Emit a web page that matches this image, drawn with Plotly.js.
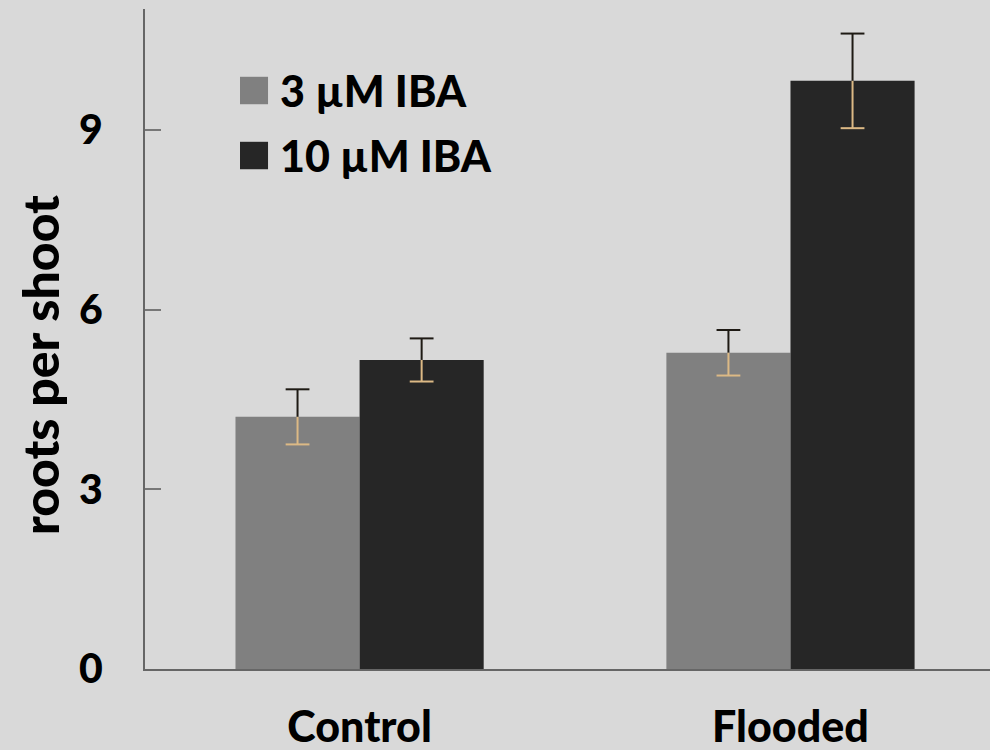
<!DOCTYPE html>
<html>
<head>
<meta charset="utf-8">
<script src="https://cdn.plot.ly/plotly-3.0.1.min.js"></script>
<style>
  html, body { margin: 0; padding: 0; background: #d9d9d9; }
  #chart { width: 990px; height: 750px; }
</style>
</head>
<body>
<div id="chart"></div>
<script>
// Root formation per shoot under two IBA concentrations
const categories = ['Control', 'Flooded'];
const seriesNames = ['3 µM IBA', '10 µM IBA'];
const iba3 = [4.21, 5.28];
const iba3Err = [0.46, 0.38];
const iba10 = [5.16, 9.82];
const iba10Err = [0.36, 0.79];
const yTicks = [0, 3, 6, 9];
const yTitle = 'roots per shoot';

const seriesValues = [iba3, iba10];
const seriesErrors = [iba3Err, iba10Err];
const barColors = ['#808080', '#262626'];
const errDark = '#1e1a14';
const errLight = '#dcb985';

const FONT = 'Lato, "Open Sans", sans-serif';
const catIdx = categories.map((_, i) => i);
const barWidth = 0.288;

const traces = [];
seriesValues.forEach((vals, s) => {
  traces.push({
    type: 'bar',
    name: seriesNames[s],
    x: catIdx,
    y: vals,
    marker: { color: barColors[s], line: { width: 0 } },
    showlegend: false,
    hoverinfo: 'y'
  });
});

// Error bars: dark upper stem and cap, light tan lower stem and cap
seriesValues.forEach((vals, s) => {
  const xs = catIdx.map(i => i + (s === 0 ? -barWidth / 2 : barWidth / 2));
  const errs = seriesErrors[s];
  const zeros = vals.map(() => 0);
  const hidden = { size: 1, color: 'rgba(0,0,0,0)' };
  traces.push({
    type: 'scatter', mode: 'markers', x: xs, y: vals, marker: hidden,
    showlegend: false, hoverinfo: 'skip',
    error_y: { type: 'data', symmetric: false, array: errs, arrayminus: zeros,
               color: errDark, thickness: 2, width: 0 }
  });
  traces.push({
    type: 'scatter', mode: 'markers', x: xs, y: vals, marker: hidden,
    showlegend: false, hoverinfo: 'skip',
    error_y: { type: 'data', symmetric: false, array: zeros, arrayminus: errs,
               color: errLight, thickness: 2, width: 0 }
  });
  // caps
  traces.push({
    type: 'scatter', mode: 'markers', x: xs, y: vals.map((v, i) => v + errs[i]),
    marker: { symbol: 'line-ew', size: 17, line: { color: errDark, width: 2 } },
    showlegend: false, hoverinfo: 'skip'
  });
  traces.push({
    type: 'scatter', mode: 'markers', x: xs, y: vals.map((v, i) => v - errs[i]),
    marker: { symbol: 'line-ew', size: 17, line: { color: errLight, width: 2 } },
    showlegend: false, hoverinfo: 'skip'
  });
});

// Legend drawn as square swatches with labels
const shapes = [];
const notes = [];
seriesNames.forEach((name, s) => {
  const yc = 0.8765 - s * 0.0985;
  shapes.push({
    type: 'rect', xref: 'paper', yref: 'paper',
    x0: 0.1124, x1: 0.1456, y0: yc - 0.0208, y1: yc + 0.0208,
    fillcolor: barColors[s], line: { width: 0 }
  });
  notes.push({
    xref: 'paper', yref: 'paper', x: 0.157, y: yc,
    xanchor: 'left', yanchor: 'middle', showarrow: false,
    text: name,
    font: { family: FONT, size: 43, weight: 900, color: '#000' }
  });
});

// Vertical axis title
notes.push({
  xref: 'paper', yref: 'paper', x: -0.125, y: 0.461,
  xanchor: 'center', yanchor: 'middle', showarrow: false,
  textangle: -90, text: yTitle,
  font: { family: FONT, size: 50, weight: 900, color: '#000' }
});

const layout = {
  width: 990, height: 750,
  paper_bgcolor: '#d9d9d9',
  plot_bgcolor: '#d9d9d9',
  margin: { l: 145, r: 0, t: 9, b: 81 },
  barmode: 'group',
  bargap: 0.424,
  bargroupgap: 0,
  showlegend: false,
  xaxis: {
    range: [-0.498, 1.463],
    tickmode: 'array',
    tickvals: catIdx,
    ticktext: categories,
    tickfont: { family: FONT, size: 43, weight: 900, color: '#000' },
    showgrid: false, zeroline: false,
    showline: true, linecolor: '#666', linewidth: 2,
    ticks: '', ticklabelstandoff: 19
  },
  yaxis: {
    range: [0, 11.02],
    tickmode: 'array',
    tickvals: yTicks,
    ticktext: yTicks.map(String),
    tickfont: { family: FONT, size: 41, weight: 900, color: '#000' },
    showgrid: false, zeroline: false,
    showline: true, linecolor: '#666', linewidth: 2,
    ticks: 'inside', ticklen: 16, tickwidth: 2, tickcolor: '#777',
    ticklabelstandoff: 32
  },
  shapes: shapes,
  annotations: notes
};

Plotly.newPlot('chart', traces, layout, { displayModeBar: false, staticPlot: true });
</script>
</body>
</html>
